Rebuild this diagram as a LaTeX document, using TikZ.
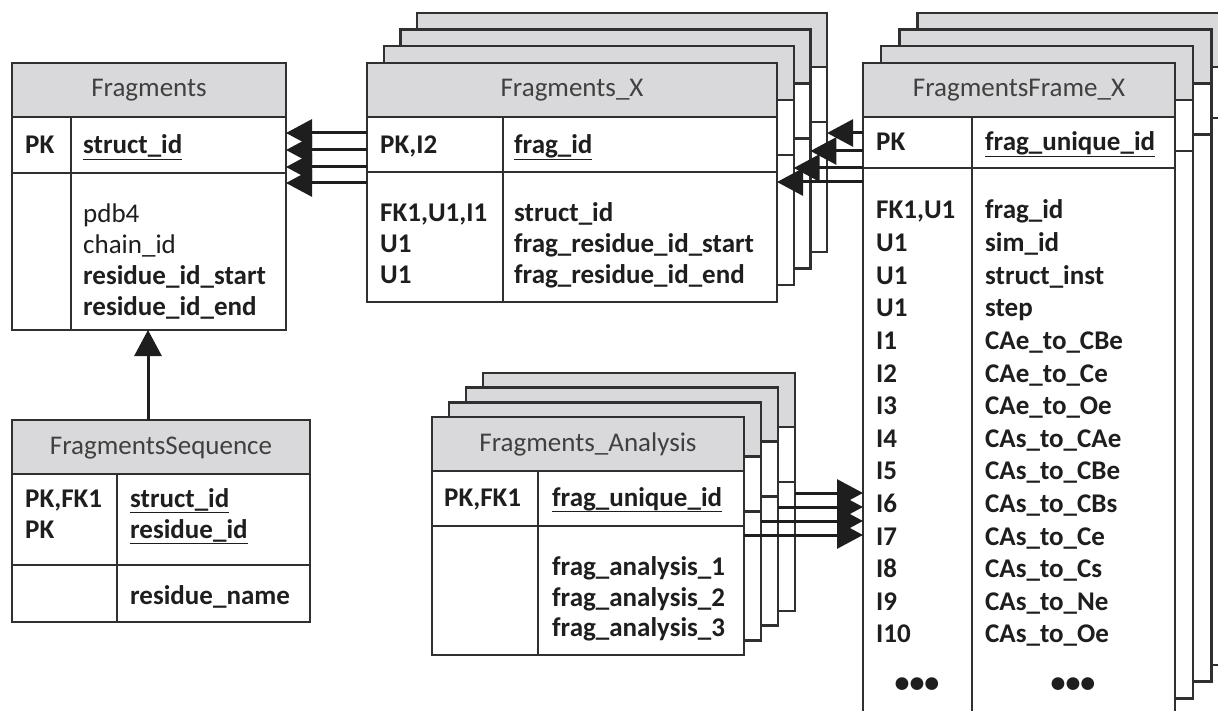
\documentclass[tikz,border=0pt]{standalone}
\usepackage{fontspec}
\setmainfont{Carlito}
\usetikzlibrary{arrows.meta}
\definecolor{hdr}{RGB}{217,217,219}
\definecolor{bord}{RGB}{48,48,48}
\definecolor{ink}{RGB}{30,30,30}
\newcommand\ulx[1]{\setbox0=\hbox{#1}\rlap{\rule[-6.2pt]{\wd0}{1.4pt}}\box0}
% name, x, y, width, height, divider dx, separator dy
\newcommand\tframe[7]{%
  \node[tbox, minimum width=#4pt, minimum height=#5pt] (#1) at (#2,#3) {};
  \node[hbox, minimum width=#4pt] (#1h) at (#2,#3) {};
  \draw[tline] ([xshift=#6pt]#1h.south west) -- ([xshift=#6pt]#1.south west);
  \draw[tline] ([yshift=-#7pt]#1.north west) -- ([yshift=-#7pt]#1.north east);
}
\tikzset{
  tbox/.style={draw=bord, line width=2.4pt, fill=white, anchor=north west, inner sep=0pt, outer sep=0pt},
  hbox/.style={draw=bord, line width=2.4pt, fill=hdr, anchor=north west, inner sep=0pt, outer sep=0pt, minimum height=54pt},
  tline/.style={draw=bord, line width=2.4pt},
  txt/.style={font=\fontsize{27}{31}\selectfont, text=ink, inner sep=0pt, anchor=base west},
  ttl/.style={font=\fontsize{27}{31}\selectfont, text=ink!85, inner sep=0pt, anchor=base},
  dots/.style={font=\fontsize{30}{31}\selectfont\bfseries, text=ink, inner sep=0pt, anchor=base},
  rel/.style={draw=ink, line width=3pt, -{Triangle[length=26pt,width=27pt]}},
}
\begin{document}
\begin{tikzpicture}[x=1pt,y=-1pt]
\useasboundingbox (0,0) rectangle (1218,711);
\clip (0,0) rectangle (1218,711);

% ---------- Fragments ----------
\tframe{fr}{12}{63}{274}{267}{59}{110}
\node[ttl] (frT) at (149,97) {Fragments};
\node[txt] (frPK) at (25,154) {\textbf{PK}};
\node[txt] (frK) at (83,154) {\textbf{\ulx{struct\_id}}};
\node[txt] (fr1) at (83,223) {pdb4};
\node[txt] (fr2) at (83,254) {chain\_id};
\node[txt] (fr3) at (83,285) {\textbf{residue\_id\_start}};
\node[txt] (fr4) at (83,316) {\textbf{residue\_id\_end}};

% ---------- FragmentsSequence ----------
\tframe{fs}{12}{420}{298}{202}{105}{145}
\node[ttl] (fsT) at (161,454) {FragmentsSequence};
\node[txt] (fsL1) at (25,507) {\textbf{PK,FK1}};
\node[txt] (fsL2) at (25,538) {\textbf{PK}};
\node[txt] (fsR1) at (130,507) {\textbf{\ulx{struct\_id}}};
\node[txt] (fsR2) at (130,538) {\textbf{\ulx{residue\_id}}};
\node[txt] (fsR3) at (130,604) {\textbf{residue\_name}};

% ---------- Fragments_X stack ----------
\tframe{fx4}{417.1}{12.9}{410}{239}{136}{109}
\tframe{fx3}{400.4}{29.6}{410}{239}{136}{109}
\tframe{fx2}{383.7}{46.3}{410}{239}{136}{109}
\tframe{fx}{367}{63}{410}{239}{136}{109}
\node[ttl] (fxT) at (572,97) {Fragments\_X};
\node[txt] (fxPK) at (380,154) {\textbf{PK,I2}};
\node[txt] (fxK) at (514,154) {\textbf{\ulx{frag\_id}}};
\node[txt] (fxL1) at (380,222) {\textbf{FK1,U1,I1}};
\node[txt] (fxL2) at (380,253) {\textbf{U1}};
\node[txt] (fxL3) at (380,284) {\textbf{U1}};
\node[txt] (fxR1) at (514,222) {\textbf{struct\_id}};
\node[txt] (fxR2) at (514,253) {\textbf{frag\_residue\_id\_start}};
\node[txt] (fxR3) at (514,284) {\textbf{frag\_residue\_id\_end}};

% ---------- FragmentsFrame_X stack ----------
\tframe{ff4}{917.6}{12.9}{312}{652}{109}{105}
\tframe{ff3}{899.4}{29.6}{312}{652}{109}{105}
\tframe{ff2}{881.2}{46.3}{312}{652}{109}{105}
\tframe{ff}{863}{63}{312}{652}{109}{105}
\node[ttl] (ffT) at (1019,97) {FragmentsFrame\_X};
\node[txt] (ffPK) at (876,151) {\textbf{PK}};
\node[txt] (ffK) at (985,151) {\textbf{\ulx{frag\_unique\_id}}};
\foreach \l/\r [count=\i] in {{FK1,U1}/frag\_id, U1/sim\_id, U1/struct\_inst, U1/step,
  I1/CAe\_to\_CBe, I2/CAe\_to\_Ce, I3/CAe\_to\_Oe, I4/CAs\_to\_CAe, I5/CAs\_to\_CBe,
  I6/CAs\_to\_CBs, I7/CAs\_to\_Ce, I8/CAs\_to\_Cs, I9/CAs\_to\_Ne, I10/CAs\_to\_Oe}{
  \node[txt] (ffL\i) at (876,{219+(\i-1)*32.6}) {\textbf{\l}};
  \node[txt] (ffR\i) at (985,{219+(\i-1)*32.6}) {\textbf{\r}};
}
\node[dots] (ffD1) at (917,692) {\textbullet\textbullet\textbullet};
\node[dots] (ffD2) at (1073,692) {\textbullet\textbullet\textbullet};

% ---------- Fragments_Analysis stack ----------
\tframe{fa4}{483}{372.9}{312}{238}{106}{109}
\tframe{fa3}{466}{387.6}{312}{238}{106}{109}
\tframe{fa2}{449}{402.3}{312}{238}{106}{109}
\tframe{fa}{432}{417}{312}{238}{106}{109}
\node[ttl] (faT) at (588,451) {Fragments\_Analysis};
\node[txt] (faPK) at (444,506) {\textbf{PK,FK1}};
\node[txt] (faK) at (552,506) {\textbf{\ulx{frag\_unique\_id}}};
\node[txt] (fa1) at (552,575) {\textbf{frag\_analysis\_1}};
\node[txt] (fa2t) at (552,606) {\textbf{frag\_analysis\_2}};
\node[txt] (fa3t) at (552,636) {\textbf{frag\_analysis\_3}};

% ---------- relations ----------
\coordinate (ya) at (0,133); \coordinate (yb) at (0,150);
\coordinate (yc) at (0,167); \coordinate (yd) at (0,183);
\draw[rel] (fx.west |- ya) -- (fr.east |- ya);
\draw[rel] (fx.west |- yb) -- (fr.east |- yb);
\draw[rel] (fx.west |- yc) -- (fr.east |- yc);
\draw[rel] (fx.west |- yd) -- (fr.east |- yd);

\coordinate (ye) at (0,133); \coordinate (yf) at (0,151);
\coordinate (yg) at (0,168); \coordinate (yh) at (0,182);
\draw[rel] (ff.west |- ye) -- (fx4.east |- ye);
\draw[rel] (ff.west |- yf) -- (fx3.east |- yf);
\draw[rel] (ff.west |- yg) -- (fx2.east |- yg);
\draw[rel] (ff.west |- yh) -- (fx.east |- yh);

\coordinate (yi) at (0,493); \coordinate (yj) at (0,507);
\coordinate (yk) at (0,521); \coordinate (yl) at (0,535);
\draw[rel] (fa4.east |- yi) -- (ff.west |- yi);
\draw[rel] (fa3.east |- yj) -- (ff.west |- yj);
\draw[rel] (fa2.east |- yk) -- (ff.west |- yk);
\draw[rel] (fa.east |- yl) -- (ff.west |- yl);

\coordinate (xs) at (148,0);
\draw[rel] (fs.north -| xs) -- (fr.south -| xs);
\end{tikzpicture}
\end{document}
